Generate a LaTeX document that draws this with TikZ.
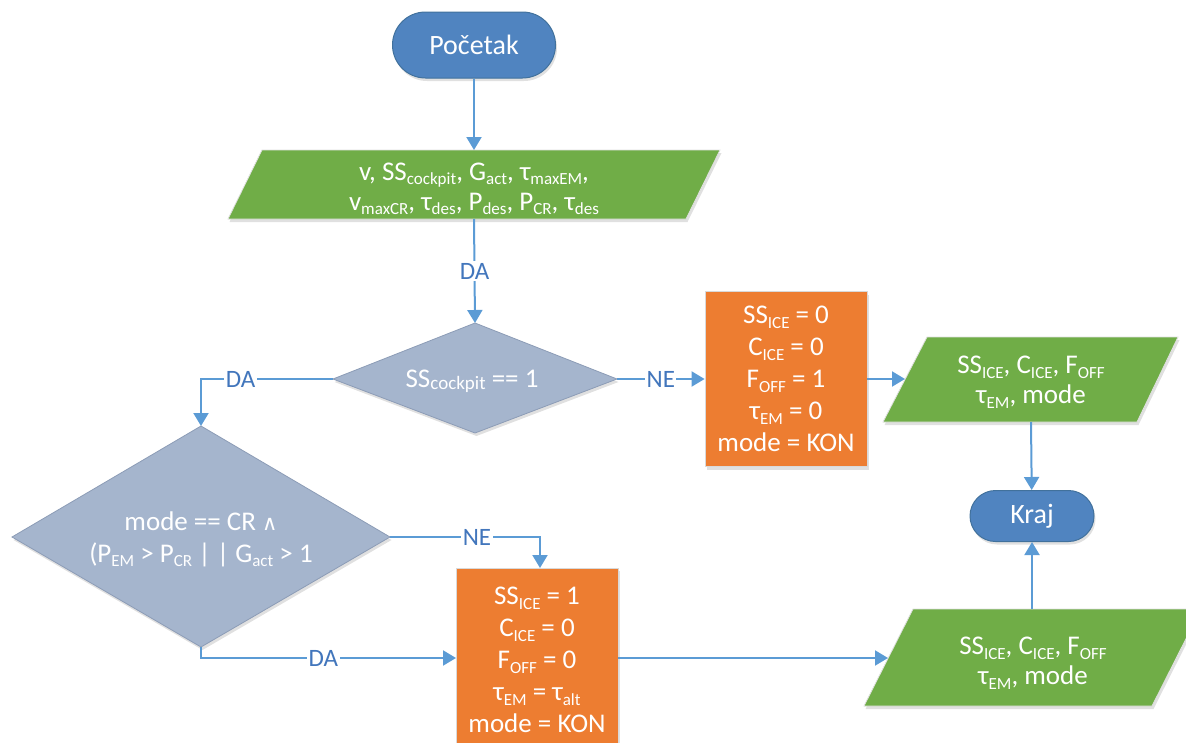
\documentclass[tikz,border=0pt]{standalone}
\usepackage{fontspec}
\setmainfont{Carlito}
\newfontfamily\dejavu{DejaVu Sans}
\usetikzlibrary{arrows.meta,shadows}
\definecolor{termblue}{RGB}{80,132,192}
\definecolor{termedge}{RGB}{65,113,156}
\definecolor{decfill}{RGB}{165,181,205}
\definecolor{decedge}{RGB}{140,156,182}
\definecolor{iogreen}{RGB}{112,173,71}
\definecolor{procorange}{RGB}{237,125,49}
\definecolor{linkblue}{RGB}{91,155,213}
\definecolor{labelblue}{RGB}{66,118,188}
\newcommand\sbs[1]{\raisebox{-0.35ex}{\fontsize{17}{17}\selectfont #1}}
\newcommand\sbc[1]{\raisebox{-0.15ex}{\fontsize{19}{19}\selectfont #1}}
\tikzset{
  shad/.style={drop shadow={shadow xshift=1.5pt, shadow yshift=-3pt, opacity=0.12, fill=black}},
  term/.style={fill=termblue, draw=termedge, line width=1pt, text=white, shad,
    font=\fontsize{28}{32}\selectfont, inner sep=0pt},
  proc/.style={fill=procorange, draw=black!15, line width=0.8pt, text=white, shad,
    align=center, inner sep=0pt, font=\fontsize{27}{32}\selectfont},
  iobox/.style={fill=iogreen, draw=black!12, line width=0.8pt, shad},
  decbox/.style={fill=decfill, draw=decedge, line width=0.8pt, shad},
  shapetext/.style={text=white, align=center, inner sep=0pt, font=\fontsize{27}{30}\selectfont},
  link/.style={draw=linkblue, line width=2pt, -{Triangle[length=13pt,width=15pt]}},
  lab/.style={fill=white, text=labelblue, inner sep=1.5pt, font=\fontsize{25}{25}\selectfont}
}
\begin{document}
\begin{tikzpicture}[x=1pt,y=-1pt]
\useasboundingbox (0,0) rectangle (1186,742);

% Start
\node[term, minimum width=163pt, minimum height=66pt, rounded corners=33pt] (start) at (474,45) {Početak};

% Input parallelogram
\path[iobox] (262,150) -- (720,150) -- (686,219) -- (228,219) -- cycle;
\coordinate (inT) at (474,150);
\coordinate (inB) at (474,219);
\node[shapetext, font=\fontsize{27}{30}\selectfont] (input) at (474,189)
  {v, SS\sbs{cockpit}, G\sbs{act}, τ\sbs{maxEM},\\ v\sbs{maxCR}, τ\sbs{des}, P\sbs{des}, P\sbs{CR}, τ\sbs{des}};

% Decision 1
\path[decbox] (333,379) -- (475,323) -- (617,379) -- (475,433) -- cycle;
\coordinate (d1T) at (475,323);
\coordinate (d1L) at (333,379);
\coordinate (d1R) at (617,379);
\node[shapetext] (dec1) at (472,381) {SS\sbc{cockpit} == 1};

% Process 1
\node[proc, minimum width=162pt, minimum height=175pt] (p1) at (786,379)
  {SS\sbs{ICE} = 0\\ C\sbs{ICE} = 0\\ F\sbs{OFF} = 1\\ τ\sbs{EM} = 0\\ mode = KON};

% Output 1
\path[iobox] (927,337) -- (1178,337) -- (1137,422) -- (883,422) -- cycle;
\coordinate (o1L) at (905,379);
\coordinate (o1B) at (1031,422);
\node[shapetext] (out1) at (1031,382) {SS\sbs{ICE}, C\sbs{ICE}, F\sbs{OFF}\\ τ\sbs{EM}, mode};

% End
\node[term, font=\fontsize{28}{30}\selectfont, minimum width=124pt, minimum height=51pt, rounded corners=25.5pt] (end) at (1032,516) {Kraj};

% Decision 2
\path[decbox] (12,537) -- (201,426) -- (390,537) -- (201,647) -- cycle;
\coordinate (d2T) at (201,426);
\coordinate (d2R) at (390,537);
\coordinate (d2B) at (201,647);
\node[shapetext, font=\fontsize{27}{32}\selectfont] (dec2) at (201,539)
  {mode == CR {\dejavu\fontsize{21}{21}\selectfont ∧}\\ (P\sbs{EM} > P\sbs{CR} | | G\sbs{act} > 1};

% Process 2
\node[proc, minimum width=162pt, minimum height=184pt] (p2) at (537,660)
  {SS\sbs{ICE} = 1\\ C\sbs{ICE} = 0\\ F\sbs{OFF} = 0\\ τ\sbs{EM} = τ\sbs{alt}\\ mode = KON};
\coordinate (p2T) at (540,568);
\coordinate (p2L) at (456,658);
\coordinate (p2R) at (618,658);

% Output 2
\path[iobox] (913,609) -- (1201,609) -- (1152,706) -- (864,706) -- cycle;
\coordinate (o2L) at (888,658);
\coordinate (o2T) at (1032,609);
\node[shapetext] (out2) at (1033,663) {SS\sbs{ICE}, C\sbs{ICE}, F\sbs{OFF}\\ τ\sbs{EM}, mode};

% Connectors
\draw[link] (start) -- (inT);
\draw[link] (inB) -- node[lab] {DA} (d1T);
\draw[link] (d1R) -- node[lab] {NE} (p1.west |- d1R);
\draw[link] (d1L) -| node[lab, pos=0.35] {DA} (d2T);
\draw[link] (p1.east |- o1L) -- (o1L);
\draw[link] (o1B) -- (end);
\draw[link] (d2R) -| node[lab, pos=0.29] {NE} (p2T);
\draw[link] (d2B) |- node[lab, pos=0.74] {DA} (p2L);
\draw[link] (p2R) -- (o2L);
\draw[link] (o2T) -- (end);
\end{tikzpicture}
\end{document}
